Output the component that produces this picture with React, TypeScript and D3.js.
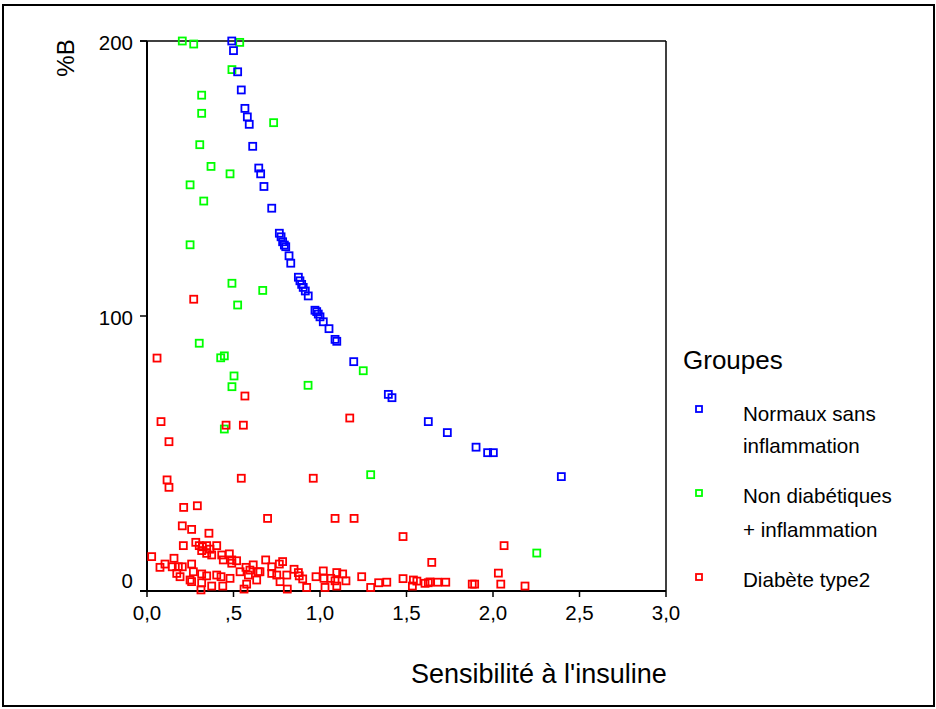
import React from "react";
import * as d3 from "d3";

const xTickValues = [0, 0.5, 1, 1.5, 2, 2.5, 3];
const xTickLabels = ["0,0", ",5", "1,0", "1,5", "2,0", "2,5", "3,0"];
const yTickValues = [0, 100, 200];
const yTickLabels = ["0", "100", "200"];

const groupNames = ["Normaux sans|inflammation", "Non diabétiques|+ inflammation", "Diabète type2"];
const groupColors = ["#0000ff", "#00ff00", "#ff0000"];

// Normaux sans inflammation [sensibilité, %B]
const normaux: [number, number][] = [
  [0.49, 200], [0.5, 196.5], [0.524, 188.8], [0.545, 182.2], [0.566, 175.5], [0.58, 172.4],
  [0.591, 169.7], [0.611, 161.7], [0.646, 153.8], [0.657, 151.7], [0.676, 147.1], [0.721, 139.2],
  [0.765, 130.1], [0.775, 128.8], [0.784, 127.0], [0.794, 125.8], [0.802, 125.2], [0.821, 121.9],
  [0.831, 119.2], [0.875, 114.1], [0.884, 112.8], [0.894, 111.5], [0.903, 110.4], [0.915, 109.1],
  [0.932, 107.3], [0.971, 102.1], [0.981, 101.6], [0.99, 100.7], [1.0, 99.7], [1.019, 97.9],
  [1.052, 95.4], [1.087, 91.5], [1.097, 90.8], [1.195, 83.4], [1.395, 71.5], [1.416, 70.3],
  [1.626, 61.6], [1.736, 57.6], [1.902, 52.3], [1.969, 50.3], [2.002, 50.3], [2.395, 41.6],
];

// Non diabétiques + inflammation
const nonDiab: [number, number][] = [
  [0.204, 200], [0.27, 198.9], [0.536, 199.5], [0.491, 189.6], [0.316, 180.3], [0.316, 173.7],
  [0.732, 170.3], [0.305, 162.3], [0.37, 154.4], [0.48, 151.7], [0.249, 147.7], [0.328, 141.8],
  [0.249, 125.9], [0.491, 111.9], [0.669, 109.3], [0.524, 104], [0.302, 90.1], [0.426, 84.8],
  [0.447, 85.5], [0.503, 78.2], [0.491, 74.3], [0.931, 74.8], [1.25, 80.1], [0.447, 58.9],
  [1.293, 42.3], [2.253, 13.8],
];

// Diabète type2
const diabete: [number, number][] = [
  [0.058, 84.7], [0.27, 106.1], [0.566, 70.9], [0.081, 61.6], [0.557, 60.3], [0.457, 60.3],
  [1.172, 62.9], [0.127, 54.3], [0.116, 40.4], [0.127, 37.7], [0.545, 41.0], [0.961, 41.0],
  [0.212, 30.4], [0.291, 31.0], [0.204, 23.7], [0.258, 22.4], [0.358, 21.0], [0.697, 26.4],
  [1.087, 26.4], [1.197, 26.4], [0.21, 16.5], [0.282, 17.7], [0.302, 16.5], [0.32, 16.1],
  [0.345, 16.5], [0.403, 16.5], [0.316, 14.7], [0.364, 15.2], [0.345, 13.7], [0.374, 13.1],
  [0.432, 13.1], [0.476, 13.5], [0.441, 11.3], [0.49, 11.3], [0.518, 11.0], [0.49, 10.1],
  [0.027, 12.5], [0.075, 8.6], [0.104, 9.8], [0.156, 11.9], [0.146, 8.8], [0.181, 8.8],
  [0.204, 8.8], [0.258, 9.8], [0.268, 7.0], [0.172, 6.4], [0.191, 5.2], [0.316, 6.2],
  [0.345, 5.5], [0.403, 5.8], [0.428, 5.2], [0.48, 4.6], [0.249, 4.0], [0.316, 3.0],
  [0.374, 1.8], [0.438, 1.8], [0.312, 0.4], [0.258, 3.4], [0.538, 7.0], [0.572, 8.6],
  [0.614, 9.5], [0.595, 7.6], [0.643, 7.0], [0.586, 5.8], [0.634, 4.0], [0.576, 2.5],
  [0.561, 0.7], [0.686, 11.3], [0.653, 7.0], [0.721, 8.8], [0.765, 9.8], [0.784, 10.7],
  [0.721, 6.4], [0.75, 5.8], [0.808, 5.8], [0.85, 7.9], [0.875, 6.7], [0.88, 5.5],
  [0.9, 4.4], [0.769, 3.4], [0.811, 0.7], [0.923, 1.3], [0.977, 5.2], [1.019, 7.3],
  [1.023, 4.6], [1.062, 4.6], [1.097, 6.7], [1.131, 6.2], [1.087, 3.7], [1.15, 3.7],
  [1.097, 1.8], [1.029, 1.3], [1.241, 5.2], [1.293, 1.3], [1.339, 3.0], [1.386, 3.2],
  [1.48, 19.8], [2.064, 16.5], [1.646, 10.4], [2.031, 6.5], [1.48, 4.5], [1.54, 4.0],
  [1.56, 3.6], [1.534, 1.8], [1.607, 2.8], [1.626, 3.0], [1.636, 3.3], [1.68, 3.2],
  [1.727, 3.2], [1.88, 2.5], [1.894, 2.5], [2.045, 2.5], [2.185, 1.8],
];

const FONT = "'Liberation Sans', Arial, sans-serif";

export default function App() {
  const W = 936, H = 709;
  const left = 147, right = 666, top = 41, bottom = 591;
  const x = d3.scaleLinear().domain([0, 3]).range([left, right]);
  const y = d3.scaleLinear().domain([0, 200]).range([bottom, top]);
  const ms = 7;

  const drawOrder: { data: [number, number][]; color: string }[] = [
    { data: nonDiab, color: groupColors[1] },
    { data: normaux, color: groupColors[0] },
    { data: diabete, color: groupColors[2] },
  ];

  const legendY = [409, 493, 577];
  const legendTextY = [[421, 453], [503, 537], [587]];

  return (
    <svg width={W} height={H} style={{ position: "absolute", left: 0, top: 0, background: "#fff" }} fontFamily={FONT}>
      <rect x={0} y={0} width={W} height={H} fill="#fff" />
      <rect x={3} y={5} width={931} height={701} fill="none" stroke="#000" strokeWidth={2} />

      {/* plot frame */}
      <line x1={left - 7} y1={top} x2={right} y2={top} stroke="#000" strokeWidth={1.5} />
      <line x1={right} y1={top} x2={right} y2={bottom} stroke="#000" strokeWidth={1.5} />
      <line x1={left} y1={top} x2={left} y2={bottom} stroke="#000" strokeWidth={2} />
      <line x1={left - 7} y1={bottom} x2={right} y2={bottom} stroke="#000" strokeWidth={2} />

      {yTickValues.map((v, i) => (
        <g key={"yt" + i}>
          <line x1={left - 7} x2={left} y1={y(v)} y2={y(v)} stroke="#000" strokeWidth={1.5} />
          <text x={133} y={v === 0 ? y(v) - 3 : y(v) + 8.5} textAnchor="end" fontSize={20.5} fill="#000">
            {yTickLabels[i]}
          </text>
        </g>
      ))}
      {xTickValues.map((v, i) => (
        <g key={"xt" + i}>
          <line x1={x(v)} x2={x(v)} y1={bottom} y2={bottom + 6} stroke="#000" strokeWidth={1.5} />
          <text x={x(v)} y={620} textAnchor="middle" fontSize={20.5} fill="#000">
            {xTickLabels[i]}
          </text>
        </g>
      ))}

      <text transform="translate(74,58) rotate(-90)" textAnchor="middle" fontSize={24} fill="#000">%B</text>
      <text x={411} y={683} fontSize={27} fill="#000">Sensibilité à l'insuline</text>

      {drawOrder.map((g, gi) => (
        <g key={"g" + gi}>
          {g.data.map((d, i) => (
            <rect key={i} x={x(d[0]) - ms / 2} y={y(d[1]) - ms / 2} width={ms} height={ms}
              fill="none" stroke={g.color} strokeWidth={1.8} />
          ))}
        </g>
      ))}

      <text x={683} y={369} fontSize={26} fill="#000">Groupes</text>
      {groupNames.map((name, i) => (
        <g key={"lg" + i}>
          <rect x={699 - 3} y={legendY[i] - 3} width={6} height={6} fill="none" stroke={groupColors[i]} strokeWidth={1.8} />
          {name.split("|").map((ln, j) => (
            <text key={j} x={743} y={legendTextY[i][j]} fontSize={20.6} fill="#000">{ln}</text>
          ))}
        </g>
      ))}
    </svg>
  );
}
